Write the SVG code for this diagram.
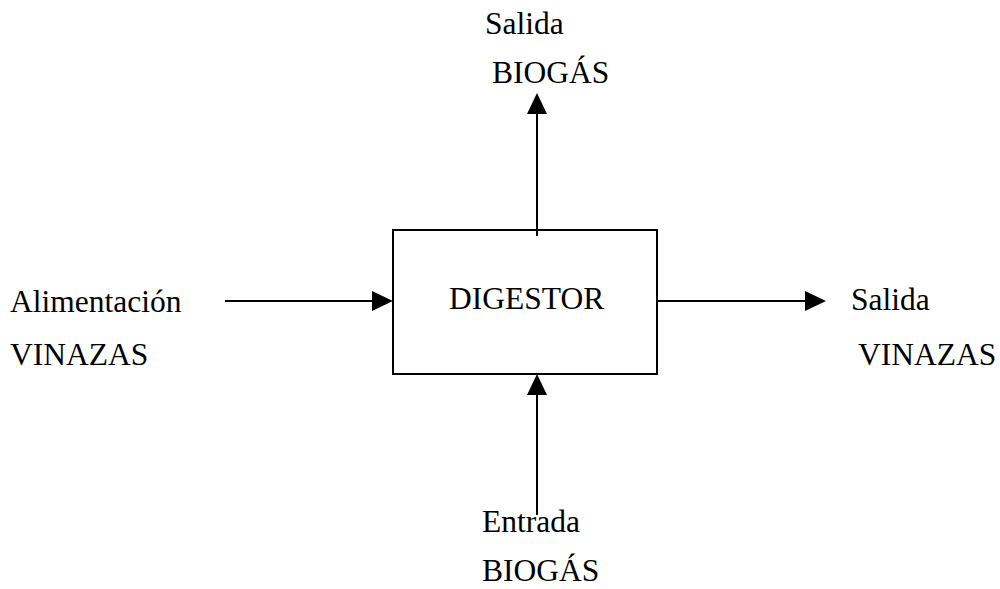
<svg xmlns="http://www.w3.org/2000/svg" width="1000" height="589" viewBox="0 0 1000 589">
<style>
text{font-family:"Liberation Serif","Times New Roman",Tinos,"DejaVu Serif",serif;font-size:31.5px;fill:#000}
.c{stroke:#000;stroke-width:2;fill:none}
</style>
<rect width="1000" height="589" fill="#fff"/>
<g id="connectors">
<path class="c" d="M537,236 V110"/>
<polygon points="537,93 527,114 547,114" fill="#000"/>
<path class="c" d="M537,515 V392"/>
<polygon points="537,374 527,395 547,395" fill="#000"/>
<path class="c" d="M225,301 H376"/>
<polygon points="393,301 372,291 372,311" fill="#000"/>
<path class="c" d="M657,301 H808"/>
<polygon points="826,301 805,291 805,311" fill="#000"/>
</g>
<g id="digestor">
<rect x="393" y="230" width="264" height="144" fill="none" stroke="#000" stroke-width="2"/>
<text x="449" y="309">DIGESTOR</text>
</g>
<g id="salida-biogas">
<text x="485" y="34">Salida</text>
<text x="492" y="83">BIOGÁS</text>
</g>
<g id="entrada-biogas">
<text x="482" y="532">Entrada</text>
<text x="482" y="581">BIOGÁS</text>
</g>
<g id="alimentacion-vinazas">
<text x="10" y="312">Alimentación</text>
<text x="10" y="365">VINAZAS</text>
</g>
<g id="salida-vinazas">
<text x="851" y="310">Salida</text>
<text x="858" y="365">VINAZAS</text>
</g>
</svg>
